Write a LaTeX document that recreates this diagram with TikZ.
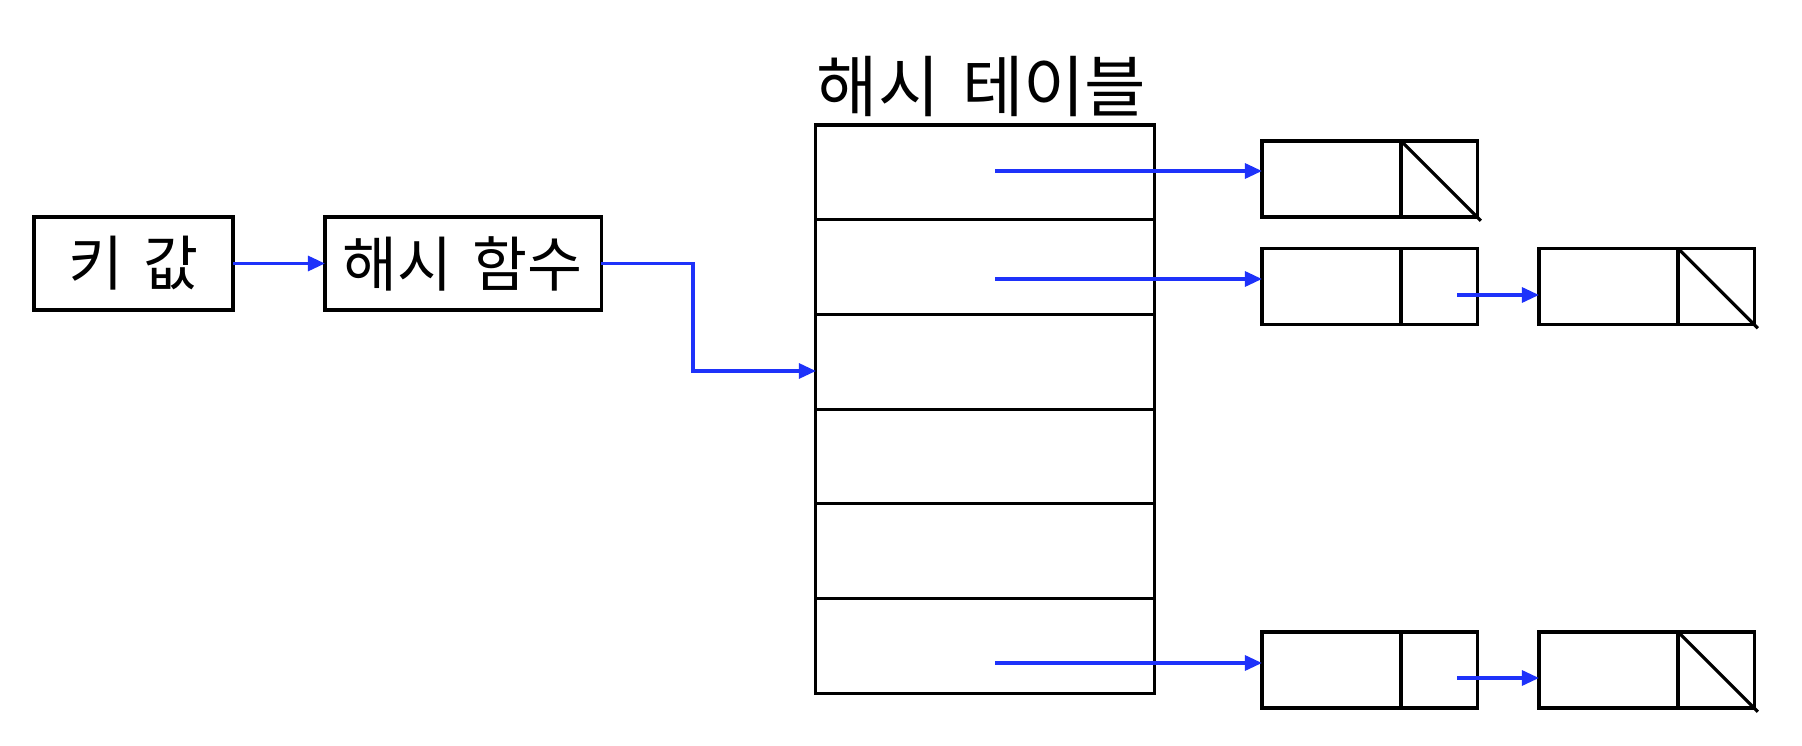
\documentclass[tikz,border=0pt]{standalone}
\usepackage{fontspec}
\setmainfont[WordSpace=1.5]{Noto Sans CJK KR}
\usetikzlibrary{positioning,arrows.meta}
\definecolor{linkblue}{RGB}{30,50,250}
\tikzset{
  box/.style={draw, line width=0.9pt, minimum height=0.93cm, inner sep=0pt, outer sep=0pt,
    font=\fontsize{17}{19}\selectfont},
  slot/.style={draw, line width=0.9pt, minimum width=3.38cm, minimum height=0.9467cm,
    inner sep=0pt, outer sep=0pt},
  cell/.style={draw, line width=0.9pt, minimum height=0.76cm, inner sep=0pt, outer sep=0pt},
  title/.style={inner sep=0pt, font=\fontsize{19}{21}\selectfont},
  link/.style={draw=linkblue, line width=0.9pt, -{Triangle[length=0.17cm, width=0.15cm]}},
}

\begin{document}
\begin{tikzpicture}[x=0.01cm, y=-0.01cm]
\useasboundingbox (0,0) rectangle (1802,746);

\node[box, minimum width=1.99cm] (key) at (133.5, 263.5) {키 값};
\node[box, minimum width=2.76cm] (hash) at (463, 263.5) {해시 함수};
\draw[link] (key) -- (hash);

\node[slot] (row1) at (985, 172.3) {};
\foreach \i [count=\j from 2] in {1,...,5}
  \node[slot, below=0pt of row\i] (row\j) {};
\node[title, anchor=base west] (title) at ([yshift=0.13cm]row1.north west) {해시 테이블};

\coordinate (turn) at (693, 371);
\draw[link] (hash.east) -| (turn) -- (turn -| row3.west);

\foreach \n/\x/\y in {a/1331.5/179, b/1331.5/286.5, c/1331.5/670, d/1608.5/286.5, e/1608.5/670} {
  \node[cell, minimum width=1.39cm] (\n) at (\x,\y) {};
  \node[cell, minimum width=0.76cm, right=0pt of \n] (\n-ptr) {};
}
\foreach \n in {a,d,e}
  \draw[line width=0.9pt, shorten >=-1.5pt] (\n-ptr.north west) -- (\n-ptr.south east);

\coordinate (s1) at (995, 171);
\coordinate (s2) at (995, 279);
\coordinate (s6) at (995, 663);
\draw[link] (s1) -- (s1 -| a.west);
\draw[link] (s2) -- (s2 -| b.west);
\draw[link] (s6) -- (s6 -| c.west);

\coordinate (t1) at (1457, 295);
\coordinate (t2) at (1457, 678);
\draw[link] (t1) -- (t1 -| d.west);
\draw[link] (t2) -- (t2 -| e.west);

\end{tikzpicture}
\end{document}
